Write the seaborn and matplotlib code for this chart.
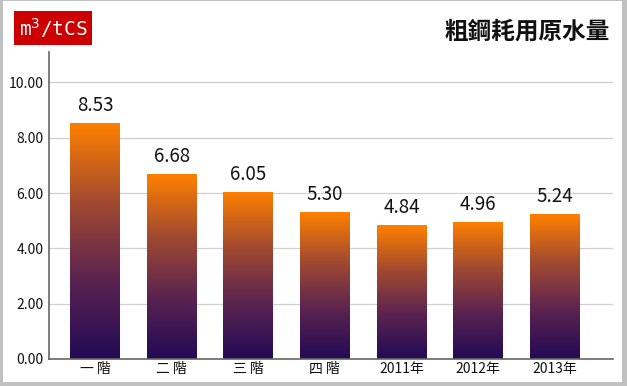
import numpy as np
import pandas as pd
import seaborn as sns
import matplotlib.pyplot as plt
from matplotlib.colors import LinearSegmentedColormap
from matplotlib.patches import Rectangle

# data
stages = ["一 階", "二 階", "三 階", "四 階", "2011年", "2012年", "2013年"]
water = [8.53, 6.68, 6.05, 5.30, 4.84, 4.96, 5.24]
y_ticks = [0, 2, 4, 6, 8, 10]

df = pd.DataFrame({"stage": stages, "water": water})

sns.set_theme(style="white")
plt.rcParams["font.family"] = ["Noto Sans CJK TC", "DejaVu Sans"]

fig = plt.figure(figsize=(6.27, 3.86), dpi=100, facecolor="#c0c0c0")
# white card inside the grey frame, behind everything
fig.patches.append(Rectangle((3 / 627, 4 / 386), 619 / 627, 381 / 386,
                             transform=fig.transFigure, facecolor="white",
                             edgecolor="none", zorder=-10))

ax = fig.add_axes([49 / 627, 1 - 359 / 386, 564 / 627, 307 / 386])
ax.set_facecolor("none")

sns.barplot(data=df, x="stage", y="water", width=0.65, ax=ax, color="#ff8000")

# vertical gradient (orange top -> dark purple bottom) per bar
cmap = LinearSegmentedColormap.from_list(
    "bar", ["#230a55", "#5a2350", "#a24a30", "#ff8000"])
grad = np.linspace(0, 1, 256).reshape(-1, 1)
for p in ax.patches:
    x0, w, h = p.get_x(), p.get_width(), p.get_height()
    im = ax.imshow(grad, cmap=cmap, origin="lower", aspect="auto",
                   extent=[x0, x0 + w, 0, h], zorder=2)
    im.set_clip_path(p)
    p.set_facecolor("none")
    p.set_edgecolor("none")

for c in ax.containers:
    ax.bar_label(c, labels=[f"{v:.2f}" for v in water], padding=5,
                 fontsize=13.5, color="#111111")

ax.set_xlim(-0.6, 6.76)
ax.set_ylim(0, 11.1)
ax.set_yticks(y_ticks)
ax.set_yticklabels([f"{t:.2f}" for t in y_ticks], fontsize=10, color="#111111")
ax.tick_params(axis="x", labelsize=10, colors="#111111", length=0, pad=2)
ax.tick_params(axis="y", length=0, pad=4)
ax.set_xlabel("")
ax.set_ylabel("")
ax.yaxis.grid(True, color="#d0d0d0", linewidth=0.9)
ax.set_axisbelow(True)
for s in ["top", "right"]:
    ax.spines[s].set_visible(False)
for s in ["left", "bottom"]:
    ax.spines[s].set_color("#666666")
    ax.spines[s].set_linewidth(1.2)

# unit tag and title
fig.text(53 / 627, 1 - 28 / 386, "m$^3$/tCS", ha="center", va="center",
         fontsize=14, color="white", family="DejaVu Sans Mono",
         bbox=dict(boxstyle="square,pad=0.25", facecolor="#cc0000",
                   edgecolor="none"))
fig.text(610 / 627, 1 - 32 / 386, "粗鋼耗用原水量", ha="right", va="center",
         fontsize=17, fontweight="bold", color="#111111")

fig.savefig("out.png", dpi=100, facecolor=fig.get_facecolor())
